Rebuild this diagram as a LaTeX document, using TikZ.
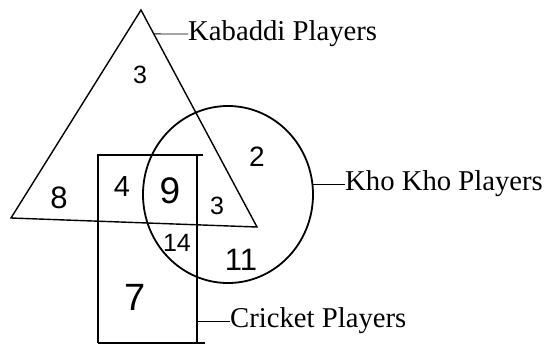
\documentclass[tikz,border=0pt]{standalone}
\usepackage{fontspec}
\setmainfont{Liberation Serif}
\newfontfamily\handfont{Liberation Sans}
\usetikzlibrary{calc}
\begin{document}
\begin{tikzpicture}[x=1pt,y=-1pt,
  shapeline/.style={draw=black,line width=1.4pt},
  leader/.style={draw=black,line width=0.8pt},
  setlabel/.style={font=\fontsize{28.7}{30}\selectfont,anchor=west,inner sep=0pt},
  num/.style={font=\handfont\fontsize{#1}{#1}\selectfont,inner sep=0pt}]
\useasboundingbox (0,0) rectangle (548,346);
% triangle (Kabaddi)
\coordinate (apex) at (141,10);
\coordinate (bl) at (11,218);
\coordinate (br) at (257,227);
\draw[shapeline,line join=miter] (apex) -- (bl) -- (br) -- cycle;
% circle (Kho Kho)
\coordinate (cc) at (228,194.5);
\draw[shapeline,line width=1.8pt] (cc) ellipse [x radius=85, y radius=88.5];
\coordinate (cright) at (313,184);
% rectangle (Cricket)
\draw[shapeline] (98,154) -- (98,343);
\draw[shapeline] (197,154) -- (197,343);
\draw[shapeline] (98,155) -- (203,155);
\draw[shapeline] (98,343) -- (205,343);
\coordinate (rright) at (197,321);
% labels
\coordinate (kabe) at ($(apex)!0.11!(br)$);
\node[setlabel] (kab) at (188,34) {Kabaddi Players};
\draw[leader] (kabe) -- (kab.west);
\node[setlabel] (kho) at (345,184) {Kho Kho Players};
\draw[leader] (cright) -- (kho.west);
\node[setlabel] (cri) at (230,321) {Cricket Players};
\draw[leader] (rright) -- (cri.west);
% numbers
\node[num=25] (n3a) at (140,75) {3};
\node[num=31] (n8) at (59,198) {8};
\node[num=29] (n4) at (122,187) {4};
\node[num=37] (n9) at (170,191) {9};
\node[num=25] (n3b) at (217,206) {3};
\node[num=28] (n2) at (257,157) {2};
\node[num=25] (n14) at (177,243) {14};
\node[num=31] (n11) at (241,260) {11};
\node[num=38] (n7) at (135,297) {7};
\end{tikzpicture}
\end{document}
